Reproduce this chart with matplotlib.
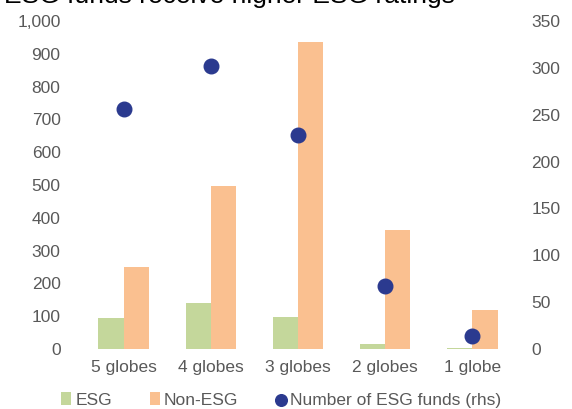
import numpy as np
import matplotlib.pyplot as plt

plt.rcParams['font.family'] = ['Liberation Sans', 'DejaVu Sans']

categories = ['5 globes', '4 globes', '3 globes', '2 globes', '1 globe']
esg = [95, 140, 98, 15, 3]
non_esg = [250, 497, 936, 363, 119]
n_esg_funds = [256, 302, 228, 67, 14]

green = '#C4D79B'
orange = '#FAC090'
navy = '#2B3A8F'
grey = '#595959'

fig = plt.figure(figsize=(5.72, 4.09), dpi=100)
ax = fig.add_axes([80 / 572, 1 - 349 / 409, 436 / 572, 328 / 409])
ax2 = ax.twinx()

x = np.arange(len(categories))
w = 0.29
ax.bar(x - w / 2, esg, w, color=green, label='ESG', zorder=2)
ax.bar(x + w / 2, non_esg, w, color=orange, label='Non-ESG', zorder=2)
ax2.scatter(x, n_esg_funds, s=110, color=navy, label='Number of ESG funds (rhs)', zorder=3)

ax.set_xlim(-0.5, len(categories) - 0.5)
ax.set_ylim(0, 1000)
ax2.set_ylim(0, 350)
ax.set_yticks(range(0, 1001, 100))
ax.set_yticklabels([f'{v:,}' for v in range(0, 1001, 100)])
ax2.set_yticks(range(0, 351, 50))
ax.set_xticks(x)
ax.set_xticklabels(categories)

for a in (ax, ax2):
    for s in a.spines.values():
        s.set_visible(False)
    a.tick_params(length=0, labelsize=12.5, colors=grey)
ax.tick_params(axis='y', pad=14)
ax2.tick_params(axis='y', pad=11)
ax.tick_params(axis='x', pad=8)

fig.text(4 / 572, 1 - 3 / 409, 'ESG funds receive higher ESG ratings',
         fontsize=19, color='black', va='baseline')

h1, l1 = ax.get_legend_handles_labels()
h2, l2 = ax2.get_legend_handles_labels()
fig.legend(h1 + h2, l1 + l2, loc='center', bbox_to_anchor=(0.492, 1 - 400 / 409),
           ncol=3, frameon=False, fontsize=12.5, labelcolor=grey,
           handlelength=0.55, handletextpad=0.25, columnspacing=2.2, markerscale=0.8)

fig.savefig('out.png', dpi=100)
